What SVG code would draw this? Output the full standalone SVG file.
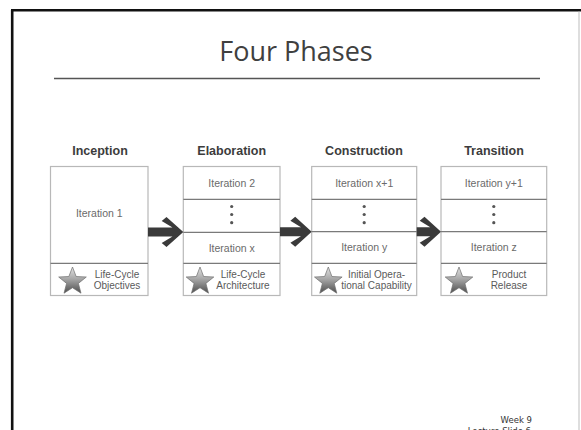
<svg xmlns="http://www.w3.org/2000/svg" xmlns:xlink="http://www.w3.org/1999/xlink" width="581" height="430" viewBox="0 0 581 430">
<style>
.box{fill:#fff;stroke:#b8b8b8;stroke-width:1.2}
.div{stroke:#7a7a7a;stroke-width:1.2}
.ph{font-family:"Liberation Sans",Arial,sans-serif;font-weight:bold;font-size:12.5px;fill:#3c3c3c;text-anchor:middle}
.it{font-family:"Liberation Sans",Arial,sans-serif;font-size:10.5px;fill:#6a6a6a;text-anchor:middle}
.ft{font-family:"Liberation Sans",Arial,sans-serif;font-size:10px;fill:#5a5a5a;text-anchor:middle}
.dot{fill:#555}
.arrow{fill:#3a3a3a}
</style>
<defs>
<linearGradient id="sg" x1="0" y1="0" x2="0" y2="1">
<stop offset="0" stop-color="#e4e4e4"/>
<stop offset="0.45" stop-color="#a8a8a8"/>
<stop offset="1" stop-color="#4e4e4e"/>
</linearGradient>
<polygon id="star" points="0,-14.5 3.65,-5 13.8,-4.5 5.9,1.9 8.5,11.7 0,6.2 -8.5,11.7 -5.9,1.9 -13.8,-4.5 -3.65,-5" fill="url(#sg)" stroke="#6e6e6e" stroke-width="0.7"/>
</defs>
<rect x="0" y="0" width="581" height="430" fill="#fff"/>
<g id="slide-frame">
<line x1="12.2" y1="10" x2="12.2" y2="430" stroke="#111" stroke-width="2.6"/>
<line x1="11" y1="10.2" x2="581" y2="10.2" stroke="#111" stroke-width="2.6"/>
<line x1="579" y1="11.5" x2="579" y2="430" stroke="#bdbdbd" stroke-width="1"/>
</g>
<g id="title">
<text x="296" y="61" font-family="'Open Sans','DejaVu Sans',sans-serif" font-size="27" fill="#404040" text-anchor="middle">Four Phases</text>
<line x1="54" y1="78.5" x2="540" y2="78.5" stroke="#555" stroke-width="1.5"/>
</g>
<g id="phase-inception">
<text class="ph" x="100" y="155">Inception</text>
<rect class="box" x="50.5" y="166.5" width="97.5" height="129"/>
<line class="div" x1="50.5" y1="263.3" x2="148" y2="263.3"/>
<text class="it" x="99.3" y="217">Iteration 1</text>
<use xlink:href="#star" href="#star" x="72.5" y="281.5"/>
<text class="ft" x="117" y="277.7">Life-Cycle</text>
<text class="ft" x="117" y="289">Objectives</text>
</g>
<g id="phase-elaboration">
<text class="ph" x="231.7" y="155">Elaboration</text>
<rect class="box" x="183.3" y="166.5" width="96.7" height="129"/>
<line class="div" x1="183.3" y1="199.3" x2="280" y2="199.3"/>
<line class="div" x1="183.3" y1="232.3" x2="280" y2="232.3"/>
<line class="div" x1="183.3" y1="263.3" x2="280" y2="263.3"/>
<text class="it" x="231.7" y="186.5">Iteration 2</text>
<circle class="dot" cx="231.7" cy="206.5" r="1.6"/>
<circle class="dot" cx="231.7" cy="214.5" r="1.6"/>
<circle class="dot" cx="231.7" cy="222.7" r="1.6"/>
<text class="it" x="231.7" y="251.6">Iteration x</text>
<use xlink:href="#star" href="#star" x="200" y="281.5"/>
<text class="ft" x="243" y="277.7">Life-Cycle</text>
<text class="ft" x="243" y="289">Architecture</text>
</g>
<g id="phase-construction">
<text class="ph" x="364" y="155">Construction</text>
<rect class="box" x="311.7" y="166.5" width="105" height="129"/>
<line class="div" x1="311.7" y1="199.3" x2="416.7" y2="199.3"/>
<line class="div" x1="311.7" y1="231.7" x2="416.7" y2="231.7"/>
<line class="div" x1="311.7" y1="263.3" x2="416.7" y2="263.3"/>
<text class="it" x="364.2" y="186.5">Iteration x+1</text>
<circle class="dot" cx="364.2" cy="206.5" r="1.6"/>
<circle class="dot" cx="364.2" cy="214.5" r="1.6"/>
<circle class="dot" cx="364.2" cy="222.7" r="1.6"/>
<text class="it" x="364.2" y="251.3">Iteration y</text>
<use xlink:href="#star" href="#star" x="328.3" y="281.5"/>
<text class="ft" x="376.5" y="277.7">Initial Opera-</text>
<text class="ft" x="376.5" y="289">tional Capability</text>
</g>
<g id="phase-transition">
<text class="ph" x="494" y="155">Transition</text>
<rect class="box" x="441" y="166.5" width="105.7" height="129"/>
<line class="div" x1="441" y1="199.3" x2="546.7" y2="199.3"/>
<line class="div" x1="441" y1="231.7" x2="546.7" y2="231.7"/>
<line class="div" x1="441" y1="263.3" x2="546.7" y2="263.3"/>
<text class="it" x="493.8" y="186.5">Iteration y+1</text>
<circle class="dot" cx="493.8" cy="206.5" r="1.6"/>
<circle class="dot" cx="493.8" cy="214.5" r="1.6"/>
<circle class="dot" cx="493.8" cy="222.7" r="1.6"/>
<text class="it" x="493.8" y="251.3">Iteration z</text>
<use xlink:href="#star" href="#star" x="459" y="281.5"/>
<text class="ft" x="509" y="277.7">Product</text>
<text class="ft" x="509" y="289">Release</text>
</g>
<g id="connectors">
<path class="arrow" d="M148,227.5 H172.5 L161.7,221 L166.5,217 L183.3,232 L166.5,247 L161.7,243 L172.5,236.5 H148 Z"/>
<path class="arrow" d="M280,227.3 H301 L290.4,220.8 L295.2,216.8 L311.7,231.8 L295.2,246.8 L290.4,242.8 L301,236.3 H280 Z"/>
<path class="arrow" d="M416.7,227.3 H430.3 L419.7,220.8 L424.5,216.8 L441,231.8 L424.5,246.8 L419.7,242.8 L430.3,236.3 H416.7 Z"/>
</g>
<g id="footer">
<text x="532" y="423" font-family="'DejaVu Sans',sans-serif" font-size="8.5" fill="#333" text-anchor="end">Week 9</text>
<text x="531" y="434" font-family="'DejaVu Sans',sans-serif" font-size="8.5" fill="#333" text-anchor="end">Lecture Slide 6</text>
</g>
</svg>
